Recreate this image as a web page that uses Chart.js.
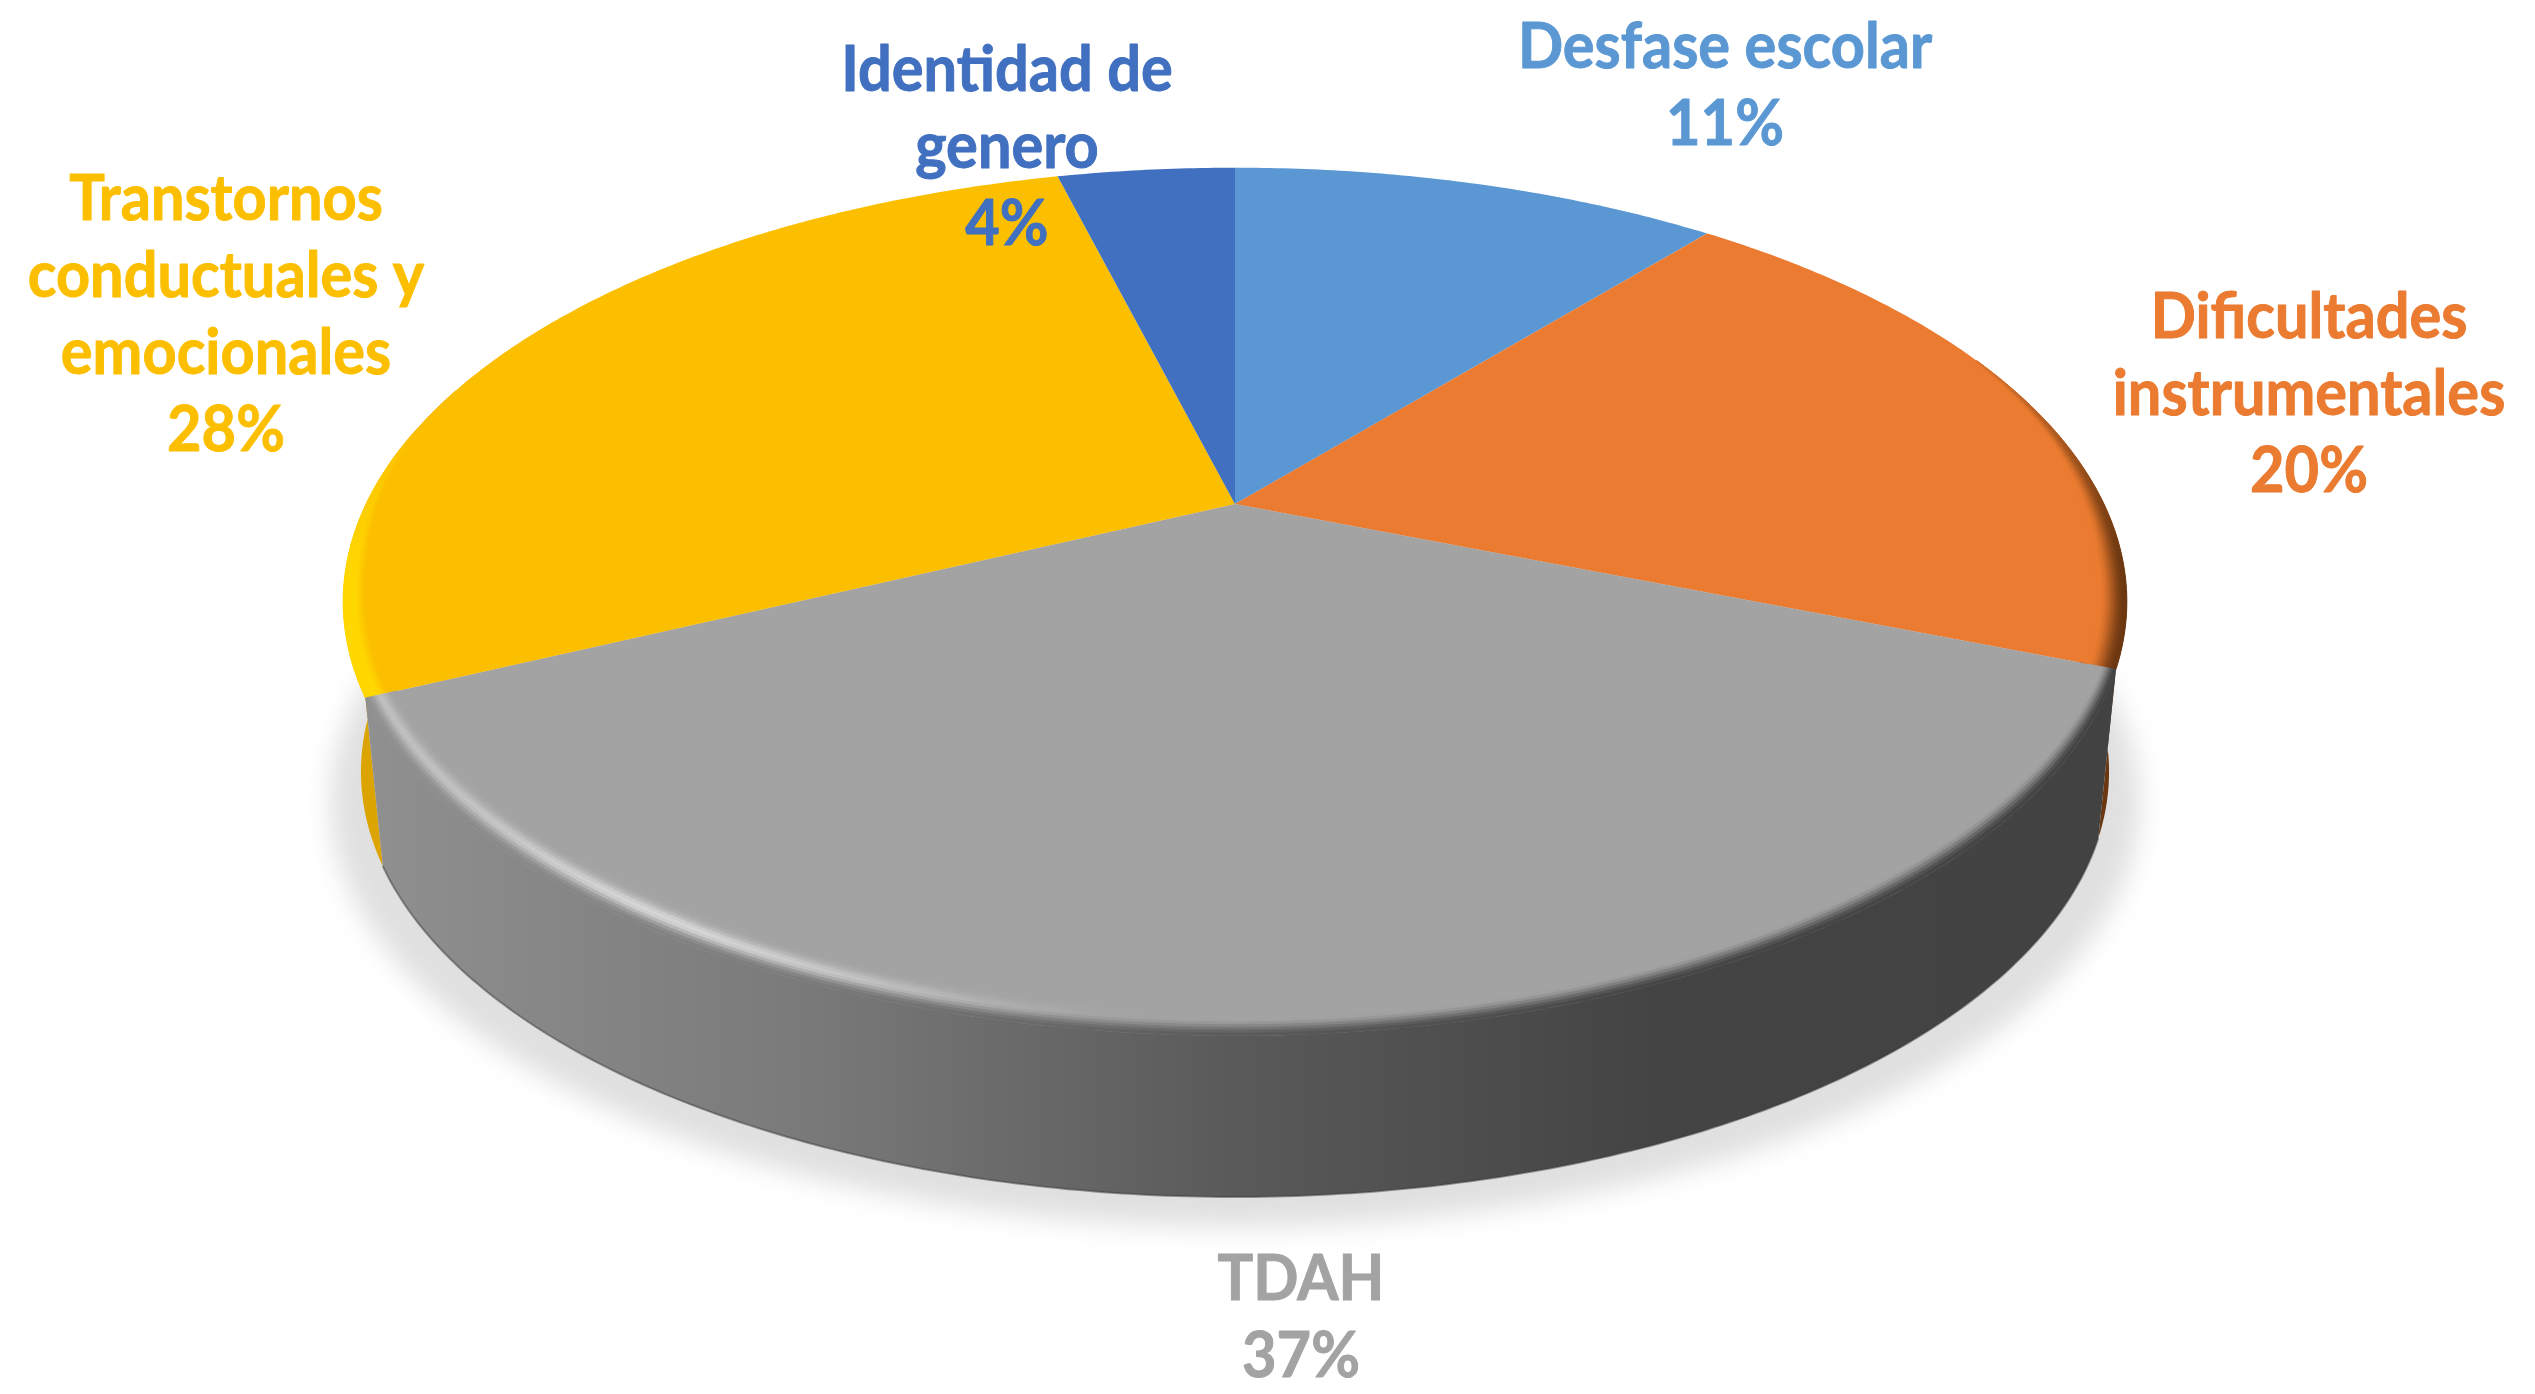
<!DOCTYPE html>
<html lang="es">
<head>
<meta charset="utf-8">
<title>Distribución</title>
<script src="https://cdn.jsdelivr.net/npm/chart.js@4/dist/chart.umd.js"></script>
<style>
  html, body { margin: 0; background: #fff; }
  canvas { display: block; }
</style>
</head>
<body>
<canvas id="pie" width="2535" height="1394"></canvas>
<script>
// Chart values
const categories = ['Desfase escolar', 'Dificultades instrumentales', 'TDAH', 'Transtornos conductuales y emocionales', 'Identidad de genero'];
const percentages = [11, 20, 37, 28, 4];
const labelLines = [['Desfase escolar'], ['Dificultades', 'instrumentales'], ['TDAH'], ['Transtornos', 'conductuales y', 'emocionales'], ['Identidad de', 'genero']];

// Styles and layout
const faceColors = ['#5B98D3', '#EA7B30', '#A3A3A3', '#FCBF00', '#4070BF'];
const labelAnchors = [[1725, 47], [2309, 317], [1301, 1279], [226, 199], [1007, 70]];
const lineGap = 77;
const labelFont = 'bold 64px Lato';
const labelSqueeze = 0.93;

// Perspective of the disc: apex of the slices, radii and tilt
const cx = 1235, cy = 504, radX = 869, radY = 412, tilt = 0.225;
// Lower edge of the disc relative to the upper one
const baseScaleX = 0.98, baseScaleY = 0.98, baseY = 676;

function project(angle, r) {
    const ux = r * Math.cos(angle), uy = r * Math.sin(angle);
    const w = 1 - tilt * uy;
    return [cx + radX * ux / w, cy + radY * uy / w];
}

function projectBase(angle, r) {
    const p = project(angle, r);
    return [cx + baseScaleX * (p[0] - cx), baseY + baseScaleY * (p[1] - cy)];
}

function hexToRgb(hex) {
    return [1, 3, 5].map(i => parseInt(hex.substr(i, 2), 16));
}

function mix(a, b, t) {
    return a.map((v, i) => v + (b[i] - v) * t);
}

function css(c) {
    return `rgb(${c[0].toFixed(0)},${c[1].toFixed(0)},${c[2].toFixed(0)})`;
}

function clamp01(v) {
    return Math.max(0, Math.min(1, v));
}

function smooth(a, b, v) {
    const t = clamp01((v - a) / (b - a));
    return t * t * (3 - 2 * t);
}

// Colour of the gray wall depending on x
const wallStops = [[360, [144, 144, 144]], [800, [122, 122, 122]], [1230, [90, 90, 90]], [1650, [68, 68, 68]], [2120, [66, 66, 66]]];
function wallColor(x) {
    for (let i = 1; i < wallStops.length; i++) {
        if (x <= wallStops[i][0]) {
            const t = clamp01((x - wallStops[i - 1][0]) / (wallStops[i][0] - wallStops[i - 1][0]));
            return mix(wallStops[i - 1][1], wallStops[i][1], t);
        }
    }
    return wallStops[wallStops.length - 1][1];
}

function traceRim(ctx, start, end, fn, first) {
    const steps = Math.max(2, Math.ceil(Math.abs(end - start) / 0.01));
    for (let i = 0; i <= steps; i++) {
        const p = fn(start + (end - start) * i / steps, 1);
        if (i === 0 && first) ctx.moveTo(p[0], p[1]);
        else ctx.lineTo(p[0], p[1]);
    }
}

function drawShadow(ctx) {
    ctx.save();
    ctx.filter = 'blur(13px)';
    ctx.fillStyle = '#e0e0e0';
    ctx.beginPath();
    for (let i = 0; i <= 360; i++) {
        const p = projectBase(i * Math.PI / 180, 1);
        const x = cx + (p[0] - cx) * 1.035;
        const y = p[1] + 30;
        if (i === 0) ctx.moveTo(x, y);
        else ctx.lineTo(x, y);
    }
    ctx.closePath();
    ctx.fill();
    ctx.restore();
}

function drawWall(ctx, arc, index) {
    // the back part of the wall is hidden by the face
    const start = Math.max(arc.startAngle, -0.3);
    const end = Math.min(arc.endAngle, Math.PI + 0.3);
    ctx.beginPath();
    traceRim(ctx, start, end, project, true);
    traceRim(ctx, end, start, projectBase, false);
    ctx.closePath();
    if (index === 2) {
        const g = ctx.createLinearGradient(360, 0, 2120, 0);
        wallStops.forEach(s => g.addColorStop((s[0] - 360) / 1760, css(s[1])));
        ctx.fillStyle = g;
    } else if (index === 1) {
        ctx.fillStyle = '#6A3711';
    } else {
        ctx.fillStyle = '#DBA400';
    }
    ctx.fill();
    if (index === 2) {
        // dark thin line along the bottom edge
        ctx.beginPath();
        traceRim(ctx, arc.startAngle, arc.endAngle, projectBase, true);
        ctx.strokeStyle = 'rgba(60,60,60,0.5)';
        ctx.lineWidth = 2;
        ctx.stroke();
    }
}

function drawFace(ctx, arc, index) {
    ctx.beginPath();
    ctx.moveTo(cx, cy);
    traceRim(ctx, arc.startAngle, arc.endAngle, project, false);
    ctx.closePath();
    ctx.fillStyle = faceColors[index];
    ctx.fill();
}

// Soft bevel between the face and the wall, fading out towards the back of the disc
function bevelColor(index, x, t, face, fade) {
    if (index === 2) {
        let c = mix(face, wallColor(x), smooth(0.5, 1, t));
        const strength = 0.85 * (1 - smooth(620, 1180, x)) * (0.55 + 0.45 * smooth(400, 700, x));
        const bump = Math.exp(-Math.pow((t - 0.55) / 0.2, 2));
        return mix(c, [226, 226, 226], strength * bump);
    }
    if (index === 3) return mix(face, [255, 216, 0], fade * smooth(0.1, 0.6, t));
    return mix(face, [106, 55, 17], fade * smooth(0.1, 0.95, t));
}

function drawBevel(ctx, arc, index) {
    const face = hexToRgb(faceColors[index]);
    const steps = Math.ceil((arc.endAngle - arc.startAngle) / 0.008);
    const rings = 12;
    for (let i = 0; i < steps; i++) {
        const a0 = arc.startAngle + (arc.endAngle - arc.startAngle) * i / steps;
        const a1 = arc.startAngle + (arc.endAngle - arc.startAngle) * (i + 1) / steps;
        const uy = Math.sin(a0);
        let width, fade = 1;
        if (index === 2) {
            width = 0.02 + 0.028 * smooth(0, 0.9, uy);
        } else if (index === 3) {
            fade = smooth(-0.3, 0.25, uy);
            width = 0.028 * fade;
        } else {
            fade = smooth(-0.55, 0.2, uy);
            width = 0.032 * fade;
        }
        if (width < 0.004) continue;
        for (let j = 0; j < rings; j++) {
            const r0 = 1 - width * (1 - j / rings);
            const r1 = 1 - width * (1 - (j + 1) / rings);
            const p = [project(a0, r0), project(a1, r0), project(a1, r1), project(a0, r1)];
            const color = css(bevelColor(index, p[0][0], (j + 0.5) / rings, face, fade));
            ctx.beginPath();
            ctx.moveTo(p[0][0], p[0][1]);
            for (let k = 1; k < 4; k++) ctx.lineTo(p[k][0], p[k][1]);
            ctx.closePath();
            ctx.fillStyle = color;
            ctx.strokeStyle = color;
            ctx.lineWidth = 0.8;
            ctx.fill();
            ctx.stroke();
        }
    }
}

const disc3d = {
    id: 'disc3d',
    // The arcs come from the pie controller, they are only projected here
    beforeDatasetDraw(chart, args) {
        const ctx = chart.ctx;
        const arcs = args.meta.data;
        drawShadow(ctx);
        [3, 1, 2].forEach(i => drawWall(ctx, arcs[i], i));
        arcs.forEach((arc, i) => drawFace(ctx, arc, i));
        [1, 3, 2].forEach(i => drawBevel(ctx, arcs[i], i));
        return false;
    },
    afterDraw(chart) {
        const ctx = chart.ctx;
        ctx.save();
        ctx.font = labelFont;
        ctx.textAlign = 'center';
        ctx.textBaseline = 'middle';
        ctx.lineWidth = 1;
        ctx.lineJoin = 'round';
        ctx.filter = 'blur(0.6px)';
        labelLines.forEach((lines, i) => {
            ctx.fillStyle = faceColors[i];
            ctx.strokeStyle = faceColors[i];
            lines.concat(percentages[i] + '%').forEach((line, n) => {
                ctx.save();
                ctx.translate(labelAnchors[i][0], labelAnchors[i][1] + n * lineGap);
                ctx.scale(labelSqueeze, 1);
                ctx.fillText(line, 0, 0);
                ctx.strokeText(line, 0, 0);
                ctx.restore();
            });
        });
        ctx.restore();
    }
};

new Chart(document.getElementById('pie').getContext('2d'), {
    type: 'pie',
    data: {
        labels: categories,
        datasets: [{
            data: percentages,
            backgroundColor: faceColors,
            borderWidth: 0
        }]
    },
    options: {
        responsive: false,
        animation: false,
        events: [],
        plugins: {
            legend: { display: false },
            tooltip: { enabled: false }
        }
    },
    plugins: [disc3d]
});
</script>
</body>
</html>
